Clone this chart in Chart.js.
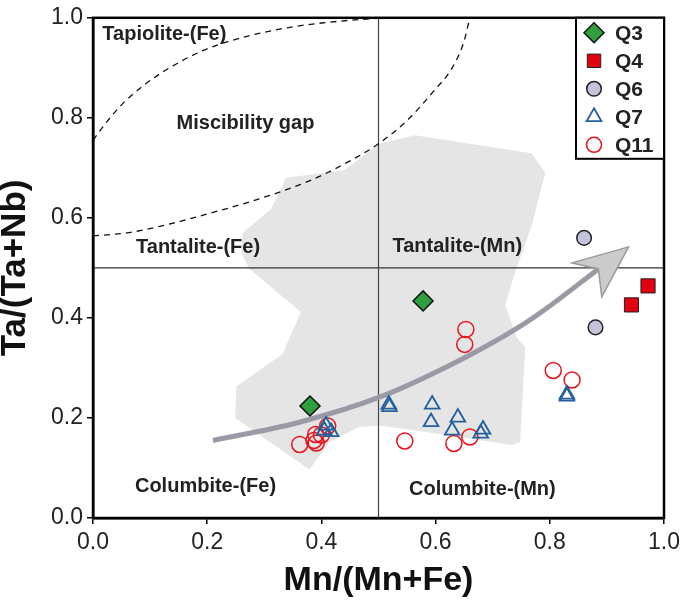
<!DOCTYPE html>
<html>
<head>
<meta charset="utf-8">
<script src="https://cdn.jsdelivr.net/npm/chart.js@4.4.1/dist/chart.umd.min.js"></script>
<style>
  html, body { margin:0; padding:0; background:#fff; }
  #wrap { width:685px; height:603px; position:relative; }
</style>
</head>
<body>
<div id="wrap"><canvas id="chart"></canvas></div>
<script>
// ============ DATA ============
const xTicks = [0, 0.2, 0.4, 0.6, 0.8, 1.0];
const yTicks = [0, 0.2, 0.4, 0.6, 0.8, 1.0];

const q3X = [0.380, 0.578];
const q3Y = [0.224, 0.434];
const q4X = [0.943, 0.972];
const q4Y = [0.426, 0.464];
const q6X = [0.860, 0.880];
const q6Y = [0.560, 0.381];
const q7X = [0.405, 0.408, 0.417, 0.518, 0.519, 0.594, 0.592, 0.639, 0.629, 0.683, 0.679, 0.830, 0.830];
const q7Y = [0.175, 0.185, 0.172, 0.227, 0.222, 0.227, 0.192, 0.201, 0.175, 0.177, 0.169, 0.247, 0.243];
const q11X = [0.362, 0.387, 0.390, 0.391, 0.400, 0.411, 0.546, 0.653, 0.651, 0.632, 0.660, 0.806, 0.839];
const q11Y = [0.147, 0.155, 0.167, 0.150, 0.166, 0.184, 0.154, 0.377, 0.347, 0.149, 0.162, 0.295, 0.276];

// grey field (outline of reference data)
const fieldX = [0.338,0.440,0.501,0.564,0.768,0.792,0.768,0.739,0.722,0.742,0.757,0.748,0.734,0.547,0.501,0.466,0.414,0.379,0.249,0.251,0.332,0.364,0.274,0.260,0.262,0.312];
const fieldY = [0.680,0.695,0.748,0.765,0.729,0.690,0.583,0.491,0.426,0.361,0.342,0.152,0.146,0.178,0.185,0.182,0.152,0.097,0.200,0.263,0.328,0.412,0.498,0.530,0.570,0.618];

// miscibility gap (dashed)
const gapOuterX = [0.000,0.020,0.050,0.090,0.140,0.200,0.270,0.350,0.430,0.485];
const gapOuterY = [0.755,0.786,0.826,0.866,0.904,0.938,0.963,0.982,0.993,0.998];
const gapInnerX = [0.000,0.059,0.117,0.204,0.291,0.379,0.437,0.501,0.553,0.594,0.629,0.649,0.658];
const gapInnerY = [0.564,0.570,0.583,0.609,0.638,0.674,0.706,0.749,0.798,0.850,0.900,0.950,0.990];

// trend arrow
const trendX = [0.210,0.360,0.505,0.650,0.745,0.800,0.885];
const trendY = [0.155,0.191,0.243,0.320,0.381,0.424,0.498];
const headX = [0.938,0.839,0.885,0.891];
const headY = [0.542,0.510,0.498,0.442];

const regionText = ['Tapiolite-(Fe)','Miscibility gap','Tantalite-(Fe)','Tantalite-(Mn)','Columbite-(Fe)','Columbite-(Mn)'];
const regionX = [0.125, 0.267, 0.184, 0.638, 0.197, 0.682];
const regionY = [0.966, 0.788, 0.541, 0.542, 0.063, 0.058];

const pts = (xs, ys) => xs.map((x, i) => ({ x, y: ys[i] }));
const FONT = "'Liberation Sans', Arial, sans-serif";

// ============ PLUGINS ============
function poly(chart, xs, ys) {
  const sx = chart.scales.x, sy = chart.scales.y, ctx = chart.ctx;
  ctx.beginPath();
  xs.forEach((v, i) => {
    const px = sx.getPixelForValue(v), py = sy.getPixelForValue(ys[i]);
    if (i === 0) ctx.moveTo(px, py); else ctx.lineTo(px, py);
  });
  ctx.closePath();
}

const decor = {
  id: 'decor',
  beforeDatasetsDraw(chart) {
    const ctx = chart.ctx, a = chart.chartArea;
    ctx.save();
    ctx.beginPath(); ctx.rect(a.left, a.top, a.right - a.left, a.bottom - a.top); ctx.clip();
    poly(chart, fieldX, fieldY);
    ctx.fillStyle = '#e5e5e5';
    ctx.fill();
    ctx.restore();
  },
  afterDatasetsDraw(chart) {
    const ctx = chart.ctx, sx = chart.scales.x, sy = chart.scales.y;
    ctx.save();
    // arrow head
    poly(chart, headX, headY);
    ctx.fillStyle = '#cbcbcb';
    ctx.strokeStyle = '#9a9a9a';
    ctx.lineWidth = 1.5;
    ctx.lineJoin = 'miter';
    ctx.fill(); ctx.stroke();
    // field labels
    ctx.fillStyle = '#222';
    ctx.font = 'bold 20px ' + FONT;
    ctx.textAlign = 'center';
    ctx.textBaseline = 'middle';
    regionText.forEach((t, i) => {
      ctx.fillText(t, sx.getPixelForValue(regionX[i]), sy.getPixelForValue(regionY[i]));
    });
    ctx.restore();
  },
  afterDraw(chart) {
    const ctx = chart.ctx, a = chart.chartArea;
    ctx.save();
    ctx.strokeStyle = '#000';
    ctx.lineWidth = 2.5;
    ctx.strokeRect(a.left, a.top, a.right - a.left, a.bottom - a.top);
    // legend box
    const items = chart.data.datasets.filter(d => d.inLegend);
    const w = 88, h = 141, bx = a.right - w, by = a.top;
    ctx.fillStyle = '#fff';
    ctx.fillRect(bx, by, w, h);
    ctx.lineWidth = 2;
    ctx.strokeRect(bx, by, w, h);
    items.forEach((d, i) => {
      const cy = by + 15 + i * 28;
      const cx = bx + 18;
      ctx.save();
      ctx.fillStyle = d.backgroundColor;
      ctx.strokeStyle = d.borderColor;
      ctx.lineWidth = d.borderWidth;
      Chart.helpers.drawPoint(ctx, {
        pointStyle: d.pointStyle, radius: d.legendRadius, rotation: 0, borderWidth: d.borderWidth
      }, cx, cy);
      ctx.restore();
      ctx.fillStyle = '#222';
      ctx.font = 'bold 21px ' + FONT;
      ctx.textAlign = 'left';
      ctx.textBaseline = 'middle';
      ctx.fillText(d.label, bx + 39, cy + 1);
    });
    ctx.restore();
  }
};

// ============ CHART ============
const lineDs = (data, color, width, dash, order) => ({
  data, showLine: true, pointRadius: 0, pointHoverRadius: 0,
  borderColor: color, borderWidth: width, borderDash: dash,
  cubicInterpolationMode: 'monotone', fill: false, order
});

new Chart(document.getElementById('chart'), {
  type: 'scatter',
  data: {
    datasets: [
      { label: 'Q3', inLegend: true, data: pts(q3X, q3Y), pointStyle: 'rectRot', pointRadius: 10, legendRadius: 10,
        backgroundColor: '#2f9e3c', borderColor: '#111', borderWidth: 1.5, order: 1 },
      { label: 'Q4', inLegend: true, data: pts(q4X, q4Y), pointStyle: 'rect', pointRadius: 10, legendRadius: 9.5,
        backgroundColor: '#e0000f', borderColor: '#222', borderWidth: 1, order: 1 },
      { label: 'Q6', inLegend: true, data: pts(q6X, q6Y), pointStyle: 'circle', pointRadius: 7.3, legendRadius: 7.3,
        backgroundColor: '#c3c3dc', borderColor: '#222', borderWidth: 1.5, order: 1 },
      { label: 'Q7', inLegend: true, data: pts(q7X, q7Y), pointStyle: 'triangle', pointRadius: 8.5, legendRadius: 8.5,
        backgroundColor: 'rgba(0,0,0,0)', borderColor: '#24609e', borderWidth: 1.8, order: 1 },
      { label: 'Q11', inLegend: true, data: pts(q11X, q11Y), pointStyle: 'circle', pointRadius: 8, legendRadius: 7.5,
        backgroundColor: 'rgba(0,0,0,0)', borderColor: '#e8141e', borderWidth: 1.5, order: 1 },
      Object.assign(lineDs(pts(trendX, trendY), '#9a9aa6', 5, [], 2), { label: 'trend', borderCapStyle: 'butt' }),
      Object.assign(lineDs(pts(gapOuterX, gapOuterY), '#111', 1.3, [6, 5], 3), { label: 'gap1' }),
      Object.assign(lineDs(pts(gapInnerX, gapInnerY), '#111', 1.3, [6, 5], 3), { label: 'gap2' }),
      Object.assign(lineDs([{x:0.5,y:0},{x:0.5,y:1}], '#444', 1.2, [], 4), { label: 'vline' }),
      Object.assign(lineDs([{x:0,y:0.5},{x:1,y:0.5}], '#333', 1.2, [], 4), { label: 'hline' })
    ]
  },
  options: {
    responsive: true,
    maintainAspectRatio: false,
    animation: false,
    layout: { autoPadding: false, padding: { top: 7, right: 19, left: 0, bottom: 0 } },
    plugins: { legend: { display: false }, tooltip: { enabled: false } },
    scales: {
      x: {
        type: 'linear', min: 0, max: 1,
        afterBuildTicks: s => { s.ticks = xTicks.map(v => ({ value: v })); },
        afterFit: s => { s.height = 85; },
        grid: { drawOnChartArea: false, drawTicks: true, tickLength: 6, color: '#000', lineWidth: 1.5 },
        border: { display: true, color: '#000', width: 2.5 },
        ticks: { padding: 5, color: '#222', font: { family: FONT, size: 23 }, callback: v => v.toFixed(1), maxRotation: 0 },
        title: { display: true, text: 'Mn/(Mn+Fe)', color: '#111', font: { family: FONT, size: 34, weight: 'bold' }, padding: { top: 0, bottom: 2 } }
      },
      y: {
        type: 'linear', min: 0, max: 1,
        afterBuildTicks: s => { s.ticks = yTicks.map(v => ({ value: v })); },
        afterFit: s => { s.width = 93; },
        grid: { drawOnChartArea: false, drawTicks: true, tickLength: 6, color: '#000', lineWidth: 1.5 },
        border: { display: true, color: '#000', width: 2.5 },
        ticks: { padding: 4, color: '#222', font: { family: FONT, size: 23 }, callback: v => v.toFixed(1) },
        title: { display: true, text: 'Ta/(Ta+Nb)', color: '#111', font: { family: FONT, size: 35, weight: 'bold', lineHeight: 0.86 }, padding: { top: 0, bottom: 0 } }
      }
    }
  },
  plugins: [decor]
});
</script>
</body>
</html>
